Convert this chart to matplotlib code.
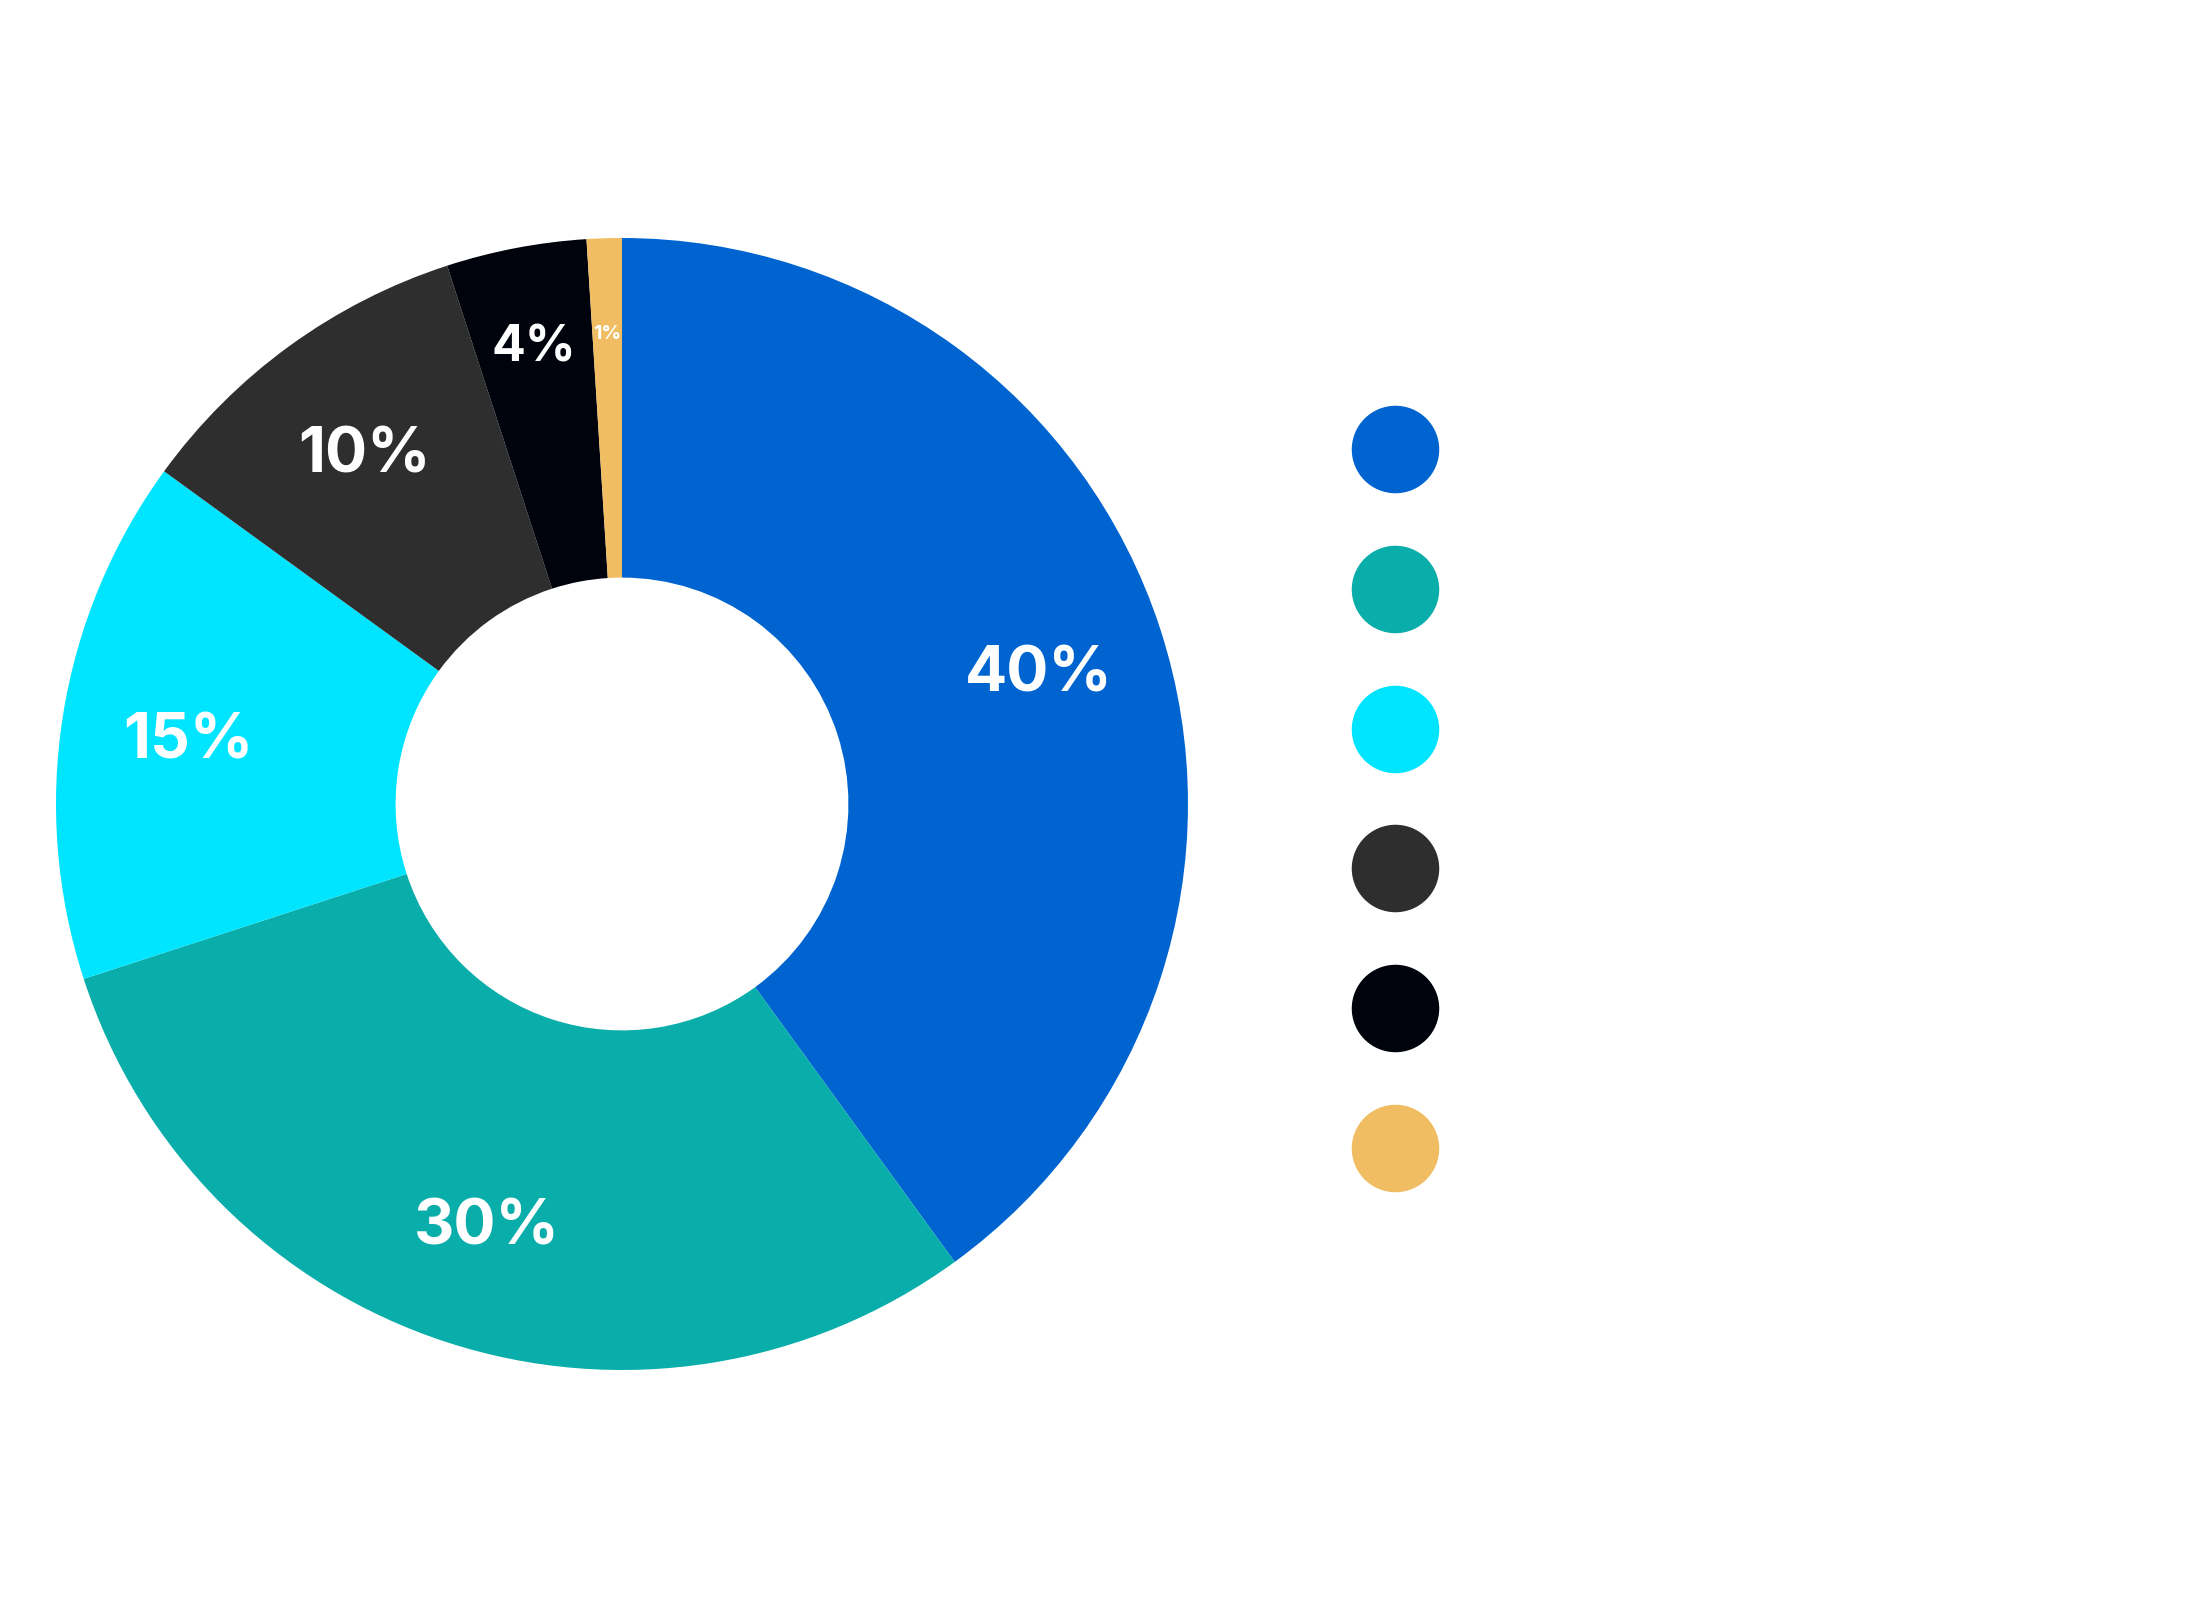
import numpy as np
import matplotlib
matplotlib.use("Agg")
import matplotlib.pyplot as plt

plt.rcParams['font.family'] = ['Inter', 'DejaVu Sans']

# data (percent shares, clockwise from 12 o'clock)
shares = [40, 30, 15, 10, 4, 1]
labels = ["40%", "30%", "15%", "10%", "4%", "1%"]
colors = ["#0064D0", "#09ADA9", "#00E5FF", "#2E2E2E", "#00020C", "#F0BD62"]

fig = plt.figure(figsize=(22.12, 16.09), dpi=100)
fig.patch.set_facecolor("white")

# donut axes
cx, cy, r = 622 / 2212, 1 - 804 / 1609, 566
ax = fig.add_axes([cx - r / 2212, cy - r / 1609, 2 * r / 2212, 2 * r / 1609])
wedges, _ = ax.pie(shares, colors=colors, startangle=90, counterclock=False,
                   radius=1, wedgeprops=dict(width=0.6, linewidth=0))
ax.set_xlim(-1, 1)
ax.set_ylim(-1, 1)
ax.set_aspect("equal")
ax.axis("off")

# percentage labels inside each slice
for w, lab, val in zip(wedges, labels, shares):
    mid = np.deg2rad((w.theta1 + w.theta2) / 2)
    if val >= 10:
        dist, size = 0.775, 45
    elif val >= 3:
        dist, size = 0.83, 36
    else:
        dist, size = 0.835, 14
    ax.text(dist * np.cos(mid), dist * np.sin(mid), lab, ha="center", va="center_baseline",
            color="white", fontsize=size, fontweight="bold")

# legend markers (labels are not visible in the source)
lax = fig.add_axes([1345 / 2212, 1 - 1218 / 1609, 100 / 2212, 839 / 1609])
for i, c in enumerate(colors):
    lax.plot(0, -i, "o", ms=63, color=c, markeredgewidth=0)
lax.set_xlim(-1, 1)
lax.set_ylim(-5.5, 0.5)
lax.axis("off")

fig.savefig("out.png", dpi=100, facecolor="white")
